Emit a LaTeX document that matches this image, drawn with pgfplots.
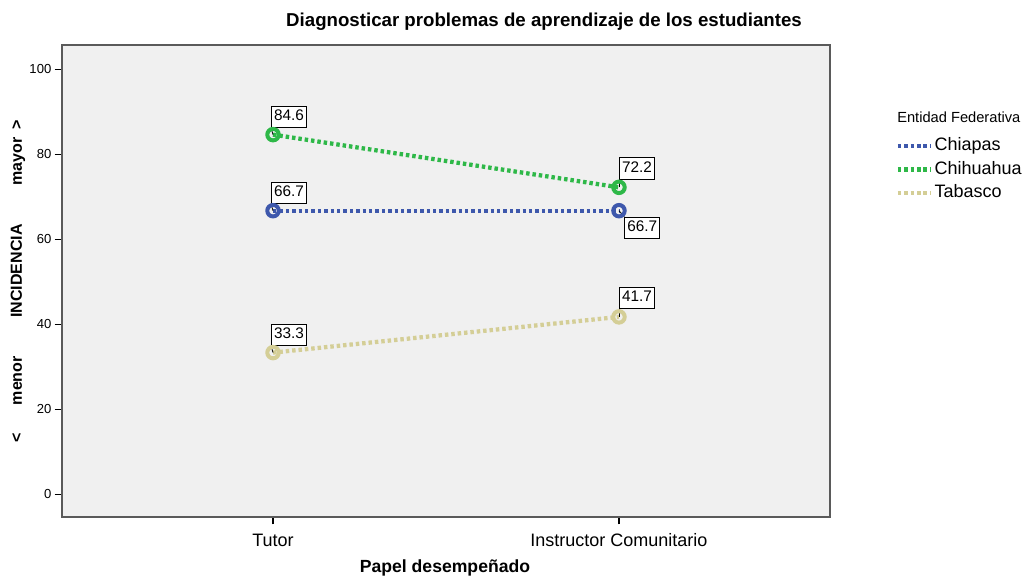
\documentclass[border=0pt]{standalone}
\usepackage{fontspec}
\setmainfont{Liberation Sans}
\usepackage{pgfplots}
\pgfplotsset{compat=1.18}

\definecolor{chiapas}{RGB}{62,88,172}
\definecolor{chihuahua}{RGB}{46,184,72}
\definecolor{tabasco}{RGB}{212,206,150}
\definecolor{bg}{RGB}{240,240,240}
\definecolor{framegray}{RGB}{90,90,90}

\pgfplotsset{
  serie/.style={line width=3.2pt, dash pattern=on 2.6pt off 2.2pt, line cap=butt,
    mark=o, mark size=4.3pt, mark options={solid, line width=3pt, fill=none}},
}
\tikzset{
  lbl/.style={draw=black, fill=white, line width=0.6pt, inner xsep=2pt, inner ysep=2.5pt,
    text height=8.5pt, text depth=2.5pt, font=\fontsize{11.5}{12}\selectfont},
}

\begin{document}
\begin{tikzpicture}
\path[use as bounding box] (0,0) rectangle (771.75pt,-433.5pt);

\begin{axis}[
    at={(46.5pt,-33.75pt)}, anchor=north west,
    width=576pt, height=354pt, scale only axis,
    xmin=0.39, xmax=2.61,
    ymin=-5.4, ymax=105.7,
    xtick={1,2}, xticklabels={Tutor, Instructor Comunitario},
    ytick={0,20,40,60,80,100},
    xtick pos=left, ytick pos=left,
    tick align=outside,
    major tick length=5.5pt,
    tick style={black, line width=0.8pt},
    axis background/.style={fill=bg},
    axis line style={draw=framegray, line width=1.5pt},
    x tick label style={font=\fontsize{13.5}{14}\selectfont, yshift=-3.5pt},
    y tick label style={font=\fontsize{9.8}{10}\selectfont, xshift=1pt},
    /pgf/number format/assume math mode=true,
    clip=false,
    legend cell align=left,
    legend style={at={(1.080,0.813)}, anchor=north west, draw=none, fill=none,
      font=\fontsize{13.5}{14}\selectfont, row sep=2.5pt,
      nodes={inner sep=1pt, text height=10pt, text depth=3pt}},
    legend image code/.code={\draw[#1, mark=none] (0pt,0pt) -- (25pt,0pt);},
]

\addplot[serie, color=chiapas] coordinates {(1,66.7) (2,66.7)};
\addlegendentry{Chiapas}
\addplot[serie, color=chihuahua] coordinates {(1,84.6) (2,72.2)};
\addlegendentry{Chihuahua}
\addplot[serie, color=tabasco] coordinates {(1,33.3) (2,41.7)};
\addlegendentry{Tabasco}

% value labels
\draw[line width=0.6pt] (axis cs:1,84.6) -- ++(-1.5pt,5pt);
\node[lbl, anchor=south west, xshift=-1.5pt, yshift=5pt] at (axis cs:1,84.6) {84.6};
\draw[line width=0.6pt] (axis cs:1,66.7) -- ++(-1.5pt,5pt);
\node[lbl, anchor=south west, xshift=-1.5pt, yshift=5pt] at (axis cs:1,66.7) {66.7};
\draw[line width=0.6pt] (axis cs:1,33.3) -- ++(-1.5pt,5pt);
\node[lbl, anchor=south west, xshift=-1.5pt, yshift=5pt] at (axis cs:1,33.3) {33.3};
\draw[line width=0.6pt] (axis cs:2,72.2) -- ++(0pt,6pt);
\node[lbl, anchor=south west, xshift=0pt, yshift=6pt] at (axis cs:2,72.2) {72.2};
\draw[line width=0.6pt] (axis cs:2,66.7) -- ++(4pt,-4.5pt);
\node[lbl, anchor=north west, xshift=4pt, yshift=-4.5pt] at (axis cs:2,66.7) {66.7};
\draw[line width=0.6pt] (axis cs:2,41.7) -- ++(0pt,6pt);
\node[lbl, anchor=south west, xshift=0pt, yshift=6pt] at (axis cs:2,41.7) {41.7};
\end{axis}

\node[font=\bfseries\fontsize{14}{16}\selectfont] at (408pt,-16.5pt)
  {Diagnosticar problemas de aprendizaje de los estudiantes};
\node[font=\bfseries\fontsize{13.2}{14}\selectfont] at (333.75pt,-426pt) {Papel desempeñado};
\node[rotate=90, font=\bfseries\fontsize{12}{13}\selectfont] at (13.5pt,-211pt)
  {<\hspace{21pt}menor\hspace{29pt}INCIDENCIA\hspace{29pt}mayor\hspace{6pt}>};
\node[anchor=west, inner sep=0pt, font=\fontsize{11}{12}\selectfont] at (672.75pt,-87.75pt) {Entidad Federativa};
\end{tikzpicture}
\end{document}
